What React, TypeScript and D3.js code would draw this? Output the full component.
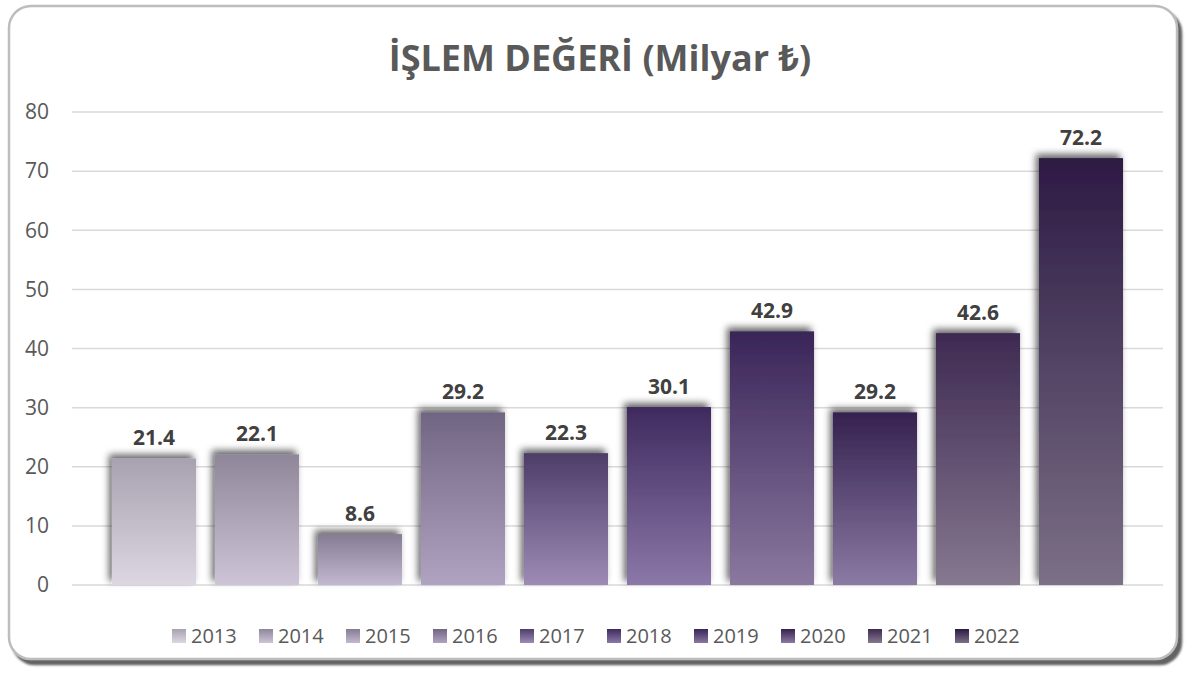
import React from "react";
import * as d3 from "d3";

const years = ["2013", "2014", "2015", "2016", "2017", "2018", "2019", "2020", "2021", "2022"];
const values = [21.4, 22.1, 8.6, 29.2, 22.3, 30.1, 42.9, 29.2, 42.6, 72.2];
const topColors = ["#a8a2b0", "#8f8799", "#857b93", "#706582", "#4d3d68", "#3f2a5e", "#3a2558", "#35214f", "#3e2a52", "#2d1a44"];
const bottomColors = ["#ddd7e4", "#cdc5d7", "#c2b8cf", "#b0a3c2", "#9d8bb5", "#8b78a8", "#8a789f", "#8b7aa3", "#86788f", "#7b7086"];
const yTicks = [0, 10, 20, 30, 40, 50, 60, 70, 80];

const W = 1188;
const H = 673;
const font = "'Open Sans', 'Noto Sans', sans-serif";

export default function App() {
  const x = d3.scaleBand<string>()
    .domain(years)
    .range([72, 1163])
    .paddingInner(0.184)
    .paddingOuter(0.388);
  const y = d3.scaleLinear().domain([0, 80]).range([585, 112]);

  return (
    <svg width={W} height={H} style={{position: "absolute", left: 0, top: 0}}>
      <defs>
        {years.map((yr, i) => (
          <linearGradient key={yr} id={"g" + yr} x1="0" y1="0" x2="0" y2="1">
            <stop offset="0%" stopColor={topColors[i]} />
            <stop offset="100%" stopColor={bottomColors[i]} />
          </linearGradient>
        ))}
        <filter id="barShadow" x="-20%" y="-20%" width="140%" height="140%">
          <feDropShadow dx="-3" dy="-4" stdDeviation="3.5" floodColor="#000" floodOpacity="0.6" />
        </filter>
        <filter id="frameShadow" x="-5%" y="-5%" width="110%" height="110%">
          <feDropShadow dx="4" dy="5" stdDeviation="1.2" floodColor="#5a5a5a" floodOpacity="0.95" />
        </filter>
      </defs>

      {/* frame */}
      <rect x={9} y={6} width={1168} height={653} rx={22} ry={22}
        fill="#fff" stroke="#bdbdbd" strokeWidth={2.5} filter="url(#frameShadow)" />

      <text x={600} y={71} textAnchor="middle" fontFamily={font} fontWeight="bold"
        fontSize={36} fill="#595959">İŞLEM DEĞERİ (Milyar ₺)</text>

      {/* grid and y axis */}
      {yTicks.map(t => (
        <g key={t}>
          <line x1={72} x2={1163} y1={y(t)} y2={y(t)} stroke="#d9d9d9" strokeWidth={1.5} />
          <text x={49} y={y(t)} dy="0.35em" textAnchor="end" fontFamily={font}
            fontSize={21} fill="#595959">{t}</text>
        </g>
      ))}

      {/* bars */}
      {years.map((yr, i) => (
        <rect key={yr} x={x(yr)} y={y(values[i])} width={x.bandwidth()}
          height={y(0) - y(values[i])} fill={`url(#g${yr})`} filter="url(#barShadow)" />
      ))}

      {/* value labels */}
      {years.map((yr, i) => (
        <text key={yr} x={(x(yr) as number) + x.bandwidth() / 2} y={y(values[i]) - 13}
          textAnchor="middle" fontFamily={font} fontWeight="bold" fontSize={21}
          fill="#404040">{values[i].toFixed(1)}</text>
      ))}

      {/* legend */}
      {years.map((yr, i) => {
        const lx = 172 + i * 87;
        return (
          <g key={yr}>
            <rect x={lx} y={629} width={14} height={14} fill={`url(#g${yr})`} />
            <text x={lx + 19} y={636} dy="0.36em" fontFamily={font} fontSize={20}
              fill="#595959">{yr}</text>
          </g>
        );
      })}
    </svg>
  );
}
